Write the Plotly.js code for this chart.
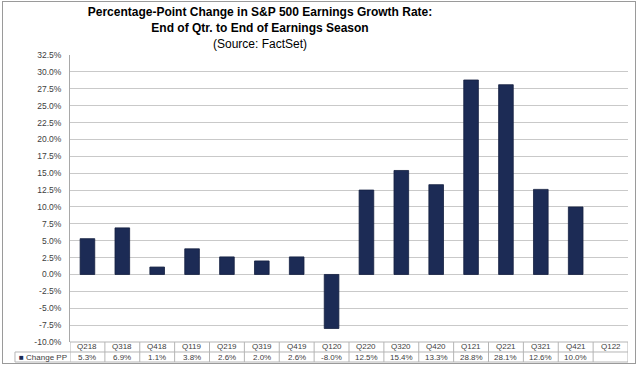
<!DOCTYPE html>
<html>
<head>
<meta charset="utf-8">
<script src="https://cdn.plot.ly/plotly-3.0.1.min.js"></script>
<style>
  html, body { margin: 0; padding: 0; background: #ffffff; }
  #wrap { position: relative; width: 640px; height: 366px; }
  #chart { width: 640px; height: 366px; }
  #frame { position: absolute; left: 2px; top: 1px; width: 634px; height: 363px;
           border: 1px solid #9a9a9a; box-sizing: border-box; pointer-events: none; }
</style>
</head>
<body>
<div id="wrap"><div id="chart"></div><div id="frame"></div></div>
<script>
const categories = ["Q218","Q318","Q418","Q119","Q219","Q319","Q419","Q120","Q220","Q320","Q420","Q121","Q221","Q321","Q421","Q122"];
const changePP = [5.3, 6.9, 1.1, 3.8, 2.6, 2.0, 2.6, -8.0, 12.5, 15.4, 13.3, 28.8, 28.1, 12.6, 10.0, null];
const seriesName = "Change PP";
const yTicks = [-10, -7.5, -5, -2.5, 0, 2.5, 5, 7.5, 10, 12.5, 15, 17.5, 20, 22.5, 25, 27.5, 30, 32.5];

const barColor = "#1c2b55";
const gridColor = "#c9c9c9";
const tableLine = "#b5b5b5";
const textColor = "#404040";

// table geometry (paper units relative to plot area)
const rowMid = -0.0348, rowBot = -0.0697, leftCell = -0.0986;

const shapes = [];
shapes.push({type:"line", xref:"paper", yref:"paper", x0:0, x1:1, y0:0, y1:0, line:{color:tableLine, width:1}});
shapes.push({type:"line", xref:"paper", yref:"paper", x0:leftCell, x1:1, y0:rowMid, y1:rowMid, line:{color:tableLine, width:1}});
shapes.push({type:"line", xref:"paper", yref:"paper", x0:leftCell, x1:1, y0:rowBot, y1:rowBot, line:{color:tableLine, width:1}});
shapes.push({type:"line", xref:"paper", yref:"paper", x0:leftCell, x1:leftCell, y0:rowMid, y1:rowBot, line:{color:tableLine, width:1}});
for (let i = 0; i <= categories.length; i++) {
  shapes.push({type:"line", xref:"x", yref:"paper", x0:i-0.5, x1:i-0.5, y0:0, y1:rowBot, line:{color:tableLine, width:1}});
}

const annotations = [];
categories.forEach((c, i) => {
  annotations.push({xref:"x", yref:"paper", x:i, y:-0.0174, text:c, showarrow:false,
    xanchor:"center", yanchor:"middle", font:{family:"Liberation Sans, Arial", size:8, color:textColor}});
  const v = changePP[i];
  annotations.push({xref:"x", yref:"paper", x:i, y:-0.0523, text:(v === null ? "" : v.toFixed(1) + "%"), showarrow:false,
    xanchor:"center", yanchor:"middle", font:{family:"Liberation Sans, Arial", size:8, color:textColor}});
});
annotations.push({xref:"paper", yref:"paper", x:leftCell + 0.004, y:-0.0523,
  text:"<span style='color:" + barColor + "'>■</span> " + seriesName, showarrow:false,
  xanchor:"left", yanchor:"middle", font:{family:"Liberation Sans, Arial", size:8, color:textColor}});

const trace = {
  type: "bar",
  x: categories,
  y: changePP,
  name: seriesName,
  marker: {color: barColor, line: {color: "#142040", width: 0.8}},
  width: 0.42,
  hoverinfo: "x+y"
};

const layout = {
  width: 640, height: 366,
  margin: {l: 70, r: 12, t: 55, b: 24},
  paper_bgcolor: "#ffffff",
  plot_bgcolor: "#ffffff",
  showlegend: false,
  title: {
    text: "<b>Percentage-Point Change in S&amp;P 500 Earnings Growth Rate:</b><br><b>End of Qtr. to End of Earnings Season</b><br>(Source: FactSet)",
    x: 260/640, xanchor: "center", xref: "container",
    y: 0.955, yanchor: "top", yref: "container",
    font: {family: "Liberation Sans, Arial", size: 12, color: "#000000"}
  },
  xaxis: {
    type: "category",
    range: [-0.5, categories.length - 0.5],
    showticklabels: false, showgrid: false, zeroline: false, showline: false, ticks: ""
  },
  yaxis: {
    range: [-10, 32.5],
    tickvals: yTicks,
    ticktext: yTicks.map(v => v.toFixed(1) + "%"),
    showgrid: true, gridcolor: gridColor, gridwidth: 1,
    zeroline: false,
    showline: true, linecolor: "#a8a8a8", linewidth: 1,
    ticks: "", ticklabelstandoff: 6,
    tickfont: {family: "Liberation Sans, Arial", size: 8.5, color: textColor}
  },
  shapes: shapes,
  annotations: annotations
};

Plotly.newPlot("chart", [trace], layout, {displayModeBar: false, staticPlot: true});
</script>
</body>
</html>
